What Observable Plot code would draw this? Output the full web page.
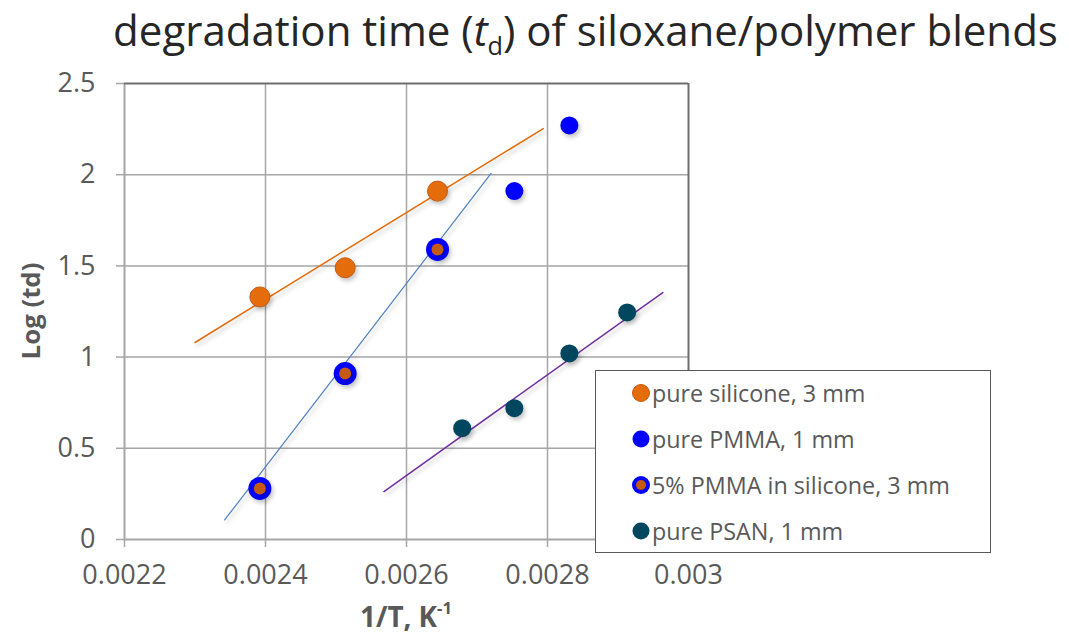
<!DOCTYPE html>
<html>
<head>
<meta charset="utf-8">
<script src="https://cdn.jsdelivr.net/npm/d3@7"></script>
<script src="https://cdn.jsdelivr.net/npm/@observablehq/plot@0.6"></script>
<style>
  html, body { margin: 0; padding: 0; background: #fff; }
  #wrap { position: relative; width: 1069px; height: 636px; overflow: hidden; font-family: "Open Sans", sans-serif; color: #595959; }
  #wrap svg { position: absolute; left: 0; top: 0; }
  .title { position: absolute; left: 100px; width: 971px; top: 1px; line-height: normal; text-align: center; color: #262626; white-space: nowrap; }
  .title span { font-size: 41px; }
  .title sub { font-size: 0.6em; vertical-align: -0.35em; line-height: 0; }
  .ylab { position: absolute; left: 30px; top: 311px; transform: translate(-50%, -50%) rotate(-90deg); font-weight: bold; font-size: 25px; white-space: nowrap; line-height: 1.4; }
  .xlab { position: absolute; left: 406px; top: 616px; transform: translate(-50%, -50%); font-weight: bold; font-size: 25px; white-space: nowrap; line-height: 1.1; }
  .xlab sup { font-size: 0.6em; vertical-align: 0.75em; line-height: 0; }
  .legend { position: absolute; left: 595px; top: 370px; width: 394px; height: 181px; border: 1.5px solid #595959; background: #fff; }
  .legend .row { position: absolute; left: 35px; height: 34px; display: flex; align-items: center; font-size: 23px; white-space: nowrap; }
  .legend svg { position: static !important; margin-right: 1px; flex: none; }
</style>
</head>
<body>
<div id="wrap"></div>
<script>
// ---- data ----
const siliconeX = [0.002392, 0.002513, 0.002644];
const siliconeY = [1.33, 1.49, 1.91];
const pmmaX = [0.002753, 0.002831];
const pmmaY = [1.91, 2.27];
const blendX = [0.002392, 0.002513, 0.002644];
const blendY = [0.28, 0.91, 1.59];
const psanX = [0.002679, 0.002753, 0.002831, 0.002913];
const psanY = [0.61, 0.72, 1.02, 1.245];
// trendlines (endpoints)
const trendSiliconeX = [0.0023, 0.002794];
const trendSiliconeY = [1.08, 2.253];
const trendBlendX = [0.002342, 0.00272];
const trendBlendY = [0.107, 2.007];
const trendPsanX = [0.002568, 0.0029635];
const trendPsanY = [0.263, 1.354];
// ticks
const xTicks = [0.0022, 0.0024, 0.0026, 0.0028, 0.003];
const yTicks = [0, 0.5, 1, 1.5, 2, 2.5];
const legendLabels = ["pure silicone, 3 mm", "pure PMMA, 1 mm", "5% PMMA in silicone, 3 mm", "pure PSAN, 1 mm"];

const zip = (xs, ys) => xs.map((x, i) => ({x, y: ys[i]}));

const C = {orange: "#E46C0A", orangeDark: "#C55A11", blue: "#0000FF", lineBlue: "#4F81BD", purple: "#7030A0", teal: "#00465E", grid: "#A6A6A6", frame: "#6E6E6E"};

const plot = Plot.plot({
  width: 1069, height: 636,
  marginLeft: 124, marginRight: 381, marginTop: 83, marginBottom: 97,
  x: {domain: [0.0022, 0.003]},
  y: {domain: [0, 2.5]},
  style: {fontFamily: "Open Sans", fontSize: "20px", color: "#595959", background: "transparent"},
  marks: [
    Plot.ruleX(xTicks.slice(1, -1), {stroke: C.grid, strokeWidth: 1.5}),
    Plot.ruleY(yTicks.slice(1, -1), {stroke: C.grid, strokeWidth: 1.5}),
    Plot.ruleX([0.0022], {stroke: C.grid, strokeWidth: 2}),
    Plot.ruleY([0], {stroke: C.grid, strokeWidth: 2}),
    Plot.ruleY([2.5], {stroke: C.frame, strokeWidth: 2}),
    Plot.ruleX([0.003], {stroke: C.frame, strokeWidth: 2}),
    Plot.axisX({ticks: xTicks, label: null, tickSize: 8, tickPadding: 17, fontSize: 27, stroke: C.grid, strokeWidth: 1.5, tickFormat: d => String(+d.toFixed(4)), fill: "#595959"}),
    Plot.axisY({ticks: yTicks, label: null, tickSize: 8, tickPadding: 21, fontSize: 27, stroke: C.grid, strokeWidth: 1.5, tickFormat: d => String(d), fill: "#595959"}),
    Plot.line(zip(trendSiliconeX, trendSiliconeY), {x: "x", y: "y", stroke: C.orange, strokeWidth: 1.5}),
    Plot.line(zip(trendBlendX, trendBlendY), {x: "x", y: "y", stroke: C.lineBlue, strokeWidth: 1.2}),
    Plot.line(zip(trendPsanX, trendPsanY), {x: "x", y: "y", stroke: C.purple, strokeWidth: 1.5}),
    Plot.dot(zip(siliconeX, siliconeY), {x: "x", y: "y", r: 10, fill: C.orange, stroke: C.orangeDark, strokeWidth: 1}),
    Plot.dot(zip(pmmaX, pmmaY), {x: "x", y: "y", r: 9, fill: C.blue}),
    Plot.dot(zip(blendX, blendY), {x: "x", y: "y", r: 11.5, fill: C.blue}),
    Plot.dot(zip(blendX, blendY), {x: "x", y: "y", r: 6, fill: C.orangeDark}),
    Plot.dot(zip(psanX, psanY), {x: "x", y: "y", r: 9, fill: C.teal})
  ]
});

const wrap = document.getElementById("wrap");
wrap.appendChild(plot);
d3.select(plot).selectAll('g[aria-label="line"], g[aria-label="dot"]').style("filter", "drop-shadow(2px 3px 2px rgba(0,0,0,0.22))");

// size a text element so that its unrotated width matches a target
function fitWidth(el, target) {
  const w = el.getBoundingClientRect().width;
  const fs = parseFloat(getComputedStyle(el).fontSize);
  if (w > 0) el.style.fontSize = (fs * target / w).toFixed(2) + "px";
}

// title and axis labels
const title = document.createElement("div");
title.className = "title";
const tspan = document.createElement("span");
tspan.innerHTML = "degradation time (<i>t</i><sub>d</sub>) of siloxane/polymer blends";
title.appendChild(tspan);
wrap.appendChild(title);
fitWidth(tspan, 945);

const ylab = document.createElement("div");
ylab.className = "ylab"; ylab.textContent = "Log (td)";
wrap.appendChild(ylab);
ylab.style.fontSize = (25 * 97 / ylab.offsetWidth).toFixed(2) + "px";

const xlab = document.createElement("div");
xlab.className = "xlab"; xlab.innerHTML = "1/T, K<sup>-1</sup>";
wrap.appendChild(xlab);
fitWidth(xlab, 92);

// legend
const legend = document.createElement("div");
legend.className = "legend";
const swatches = [
  [{r: 8.5, fill: C.orange, stroke: C.orangeDark}],
  [{r: 8.5, fill: C.blue}],
  [{r: 9, fill: C.blue}, {r: 5, fill: C.orangeDark}],
  [{r: 8.5, fill: C.teal}]
];
const spans = [];
legendLabels.forEach((lab, i) => {
  const row = document.createElement("div");
  row.className = "row";
  row.style.top = (5 + i * 46) + "px";
  const s = d3.create("svg").attr("width", 20).attr("height", 20);
  swatches[i].forEach(c => s.append("circle").attr("cx", 10).attr("cy", 10).attr("r", c.r).attr("fill", c.fill).attr("stroke", c.stroke || "none"));
  row.appendChild(s.node());
  const t = document.createElement("span");
  t.textContent = lab;
  row.appendChild(t);
  spans.push(t);
  legend.appendChild(row);
});
wrap.appendChild(legend);
// scale legend text to the widest label's width in the reference
{
  const w = spans[2].getBoundingClientRect().width;
  const fs = parseFloat(getComputedStyle(spans[2]).fontSize);
  const nfs = (fs * 298 / w).toFixed(2) + "px";
  legend.querySelectorAll(".row").forEach(r => r.style.fontSize = nfs);
}
</script>
</body>
</html>
